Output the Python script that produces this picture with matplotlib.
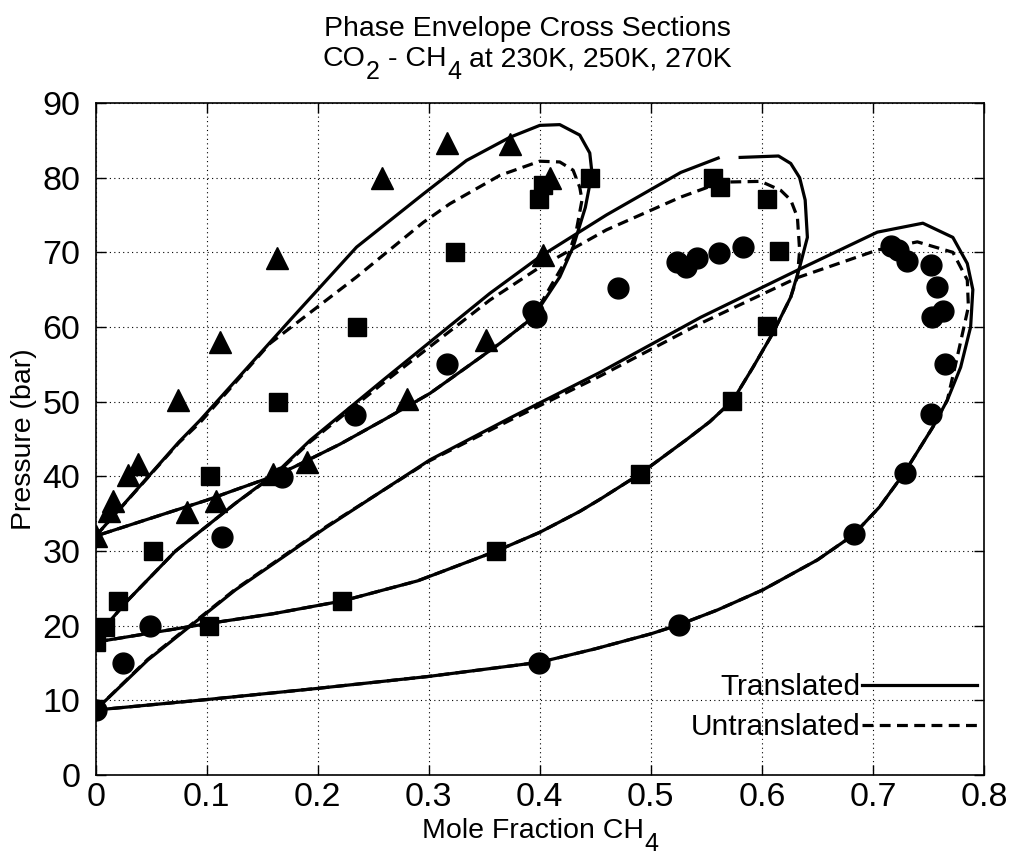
import numpy as np
import matplotlib
matplotlib.use("Agg")
import matplotlib.pyplot as plt
from matplotlib import font_manager
from matplotlib.transforms import IdentityTransform

names = {f.name for f in font_manager.fontManager.ttflist}
FONT = "Liberation Sans" if "Liberation Sans" in names else "DejaVu Sans"
plt.rcParams['font.family'] = [FONT, 'DejaVu Sans']

# ---------------- data: experimental points ----------------
t270_x = [0.0, 0.012, 0.016, 0.029, 0.038, 0.074, 0.082, 0.108, 0.112, 0.160, 0.163,
          0.190, 0.258, 0.280, 0.316, 0.352, 0.373, 0.403, 0.409]
t270_y = [32.0, 35.3, 36.7, 40.2, 41.7, 50.2, 35.2, 36.7, 58.0, 40.3, 69.3,
          41.9, 79.9, 50.3, 84.6, 58.2, 84.5, 69.6, 80.0]

s250_x = [0.0, 0.008, 0.020, 0.052, 0.102, 0.103, 0.164, 0.222, 0.235, 0.324, 0.361,
          0.399, 0.403, 0.445, 0.490, 0.556, 0.562, 0.573, 0.605, 0.605, 0.615]
s250_y = [17.8, 19.8, 23.3, 30.0, 19.9, 40.1, 50.0, 23.3, 60.0, 70.0, 30.0,
          77.2, 79.0, 80.0, 40.3, 80.0, 78.7, 50.1, 60.1, 77.2, 70.2]

c230_x = [0.0, 0.025, 0.049, 0.114, 0.168, 0.234, 0.316, 0.394, 0.397, 0.399, 0.470,
          0.524, 0.525, 0.532, 0.542, 0.561, 0.583, 0.683, 0.716, 0.723, 0.729,
          0.731, 0.752, 0.752, 0.753, 0.758, 0.763, 0.765]
c230_y = [8.7, 15.0, 20.0, 31.9, 39.9, 48.2, 55.1, 62.2, 61.3, 15.0, 65.2,
          68.7, 20.1, 68.0, 69.3, 69.9, 70.7, 32.3, 70.9, 70.3, 40.4,
          68.9, 68.3, 48.3, 61.3, 65.3, 62.2, 55.1]

# ---------------- data: model envelopes (bubble branch then dew branch) ----------------
tr230_x = [0.0, 0.047, 0.126, 0.208, 0.301, 0.373, 0.454, 0.545, 0.632, 0.704, 0.745,
           0.772, 0.785, 0.790, 0.788, 0.779, 0.767, 0.754, 0.728, 0.706, 0.682, 0.650,
           0.601, 0.560, 0.525, 0.500, 0.450, 0.400, 0.300, 0.200, 0.100, 0.0]
tr230_y = [8.7, 15.4, 24.8, 33.2, 42.2, 47.8, 53.9, 61.3, 67.6, 72.7, 73.9,
           72.0, 68.5, 65.0, 60.0, 54.6, 50.2, 46.6, 40.4, 35.9, 32.1, 28.8,
           24.8, 22.1, 20.1, 18.9, 16.9, 15.1, 13.2, 11.6, 10.1, 8.7]
un230_x = [0.0, 0.047, 0.126, 0.208, 0.301, 0.373, 0.454, 0.545, 0.632, 0.704, 0.740,
           0.772, 0.785, 0.786, 0.776, 0.767, 0.754, 0.728, 0.706, 0.682, 0.650,
           0.601, 0.560, 0.525, 0.500, 0.450, 0.400, 0.300, 0.200, 0.100, 0.0]
un230_y = [8.7, 15.5, 24.9, 33.3, 42.1, 47.5, 53.4, 60.5, 66.6, 70.3, 71.4,
           70.0, 66.3, 62.7, 56.0, 50.2, 46.6, 40.4, 35.9, 32.1, 28.8,
           24.8, 22.1, 20.1, 18.9, 16.9, 15.1, 13.2, 11.6, 10.1, 8.7]

tr250_x = [0.0, 0.008, 0.029, 0.072, 0.126, 0.163, 0.193, 0.259, 0.355, 0.400, 0.460,
           0.527, 0.562, np.nan, 0.579, 0.615, 0.626, 0.634, 0.639, 0.641, 0.634,
           0.626, 0.610, 0.592, 0.574, 0.553, 0.532, 0.490, 0.454, 0.436, 0.400, 0.361,
           0.290, 0.222, 0.160, 0.102, 0.0]
tr250_y = [17.8, 19.8, 23.4, 30.0, 36.4, 40.5, 44.8, 52.9, 64.5, 69.4, 75.0,
           80.7, 82.7, np.nan, 82.7, 82.9, 81.9, 80.0, 77.0, 72.0, 68.0,
           64.0, 59.2, 54.6, 50.2, 47.3, 44.9, 40.3, 36.9, 35.3, 32.5, 30.0,
           26.0, 23.3, 21.6, 20.3, 17.8]
un250_x = [0.0, 0.008, 0.029, 0.072, 0.126, 0.163, 0.193, 0.259, 0.355, 0.400, 0.460,
           0.527, 0.551, 0.565, 0.599, 0.617, 0.626, 0.632, 0.634, 0.632,
           0.626, 0.610, 0.592, 0.574, 0.553, 0.532, 0.490, 0.454, 0.436, 0.400, 0.361,
           0.290, 0.222, 0.160, 0.102, 0.0]
un250_y = [17.8, 19.8, 23.4, 30.0, 36.4, 40.4, 44.6, 52.5, 63.6, 68.0, 73.0,
           77.4, 78.7, 79.4, 79.5, 78.3, 77.0, 74.7, 70.3, 66.7,
           64.0, 59.2, 54.6, 50.2, 47.3, 44.9, 40.3, 36.9, 35.3, 32.5, 30.0,
           26.0, 23.3, 21.6, 20.3, 17.8]

tr270_x = [0.0, 0.075, 0.094, 0.175, 0.235, 0.295, 0.334, 0.373, 0.400, 0.418, 0.436,
           0.445, 0.447, 0.441, 0.430, 0.418, 0.394, 0.364, 0.334, 0.301, 0.260,
           0.220, 0.178, 0.160, 0.126, 0.100, 0.050, 0.0]
tr270_y = [32.0, 44.6, 47.5, 60.9, 70.7, 77.8, 82.3, 85.4, 87.0, 87.1, 85.7,
           83.3, 80.6, 76.0, 70.7, 66.7, 61.3, 57.8, 54.6, 51.1, 47.6,
           44.3, 41.2, 40.0, 38.2, 36.8, 34.4, 32.0]
un270_x = [0.0, 0.075, 0.094, 0.157, 0.235, 0.295, 0.319, 0.364, 0.400, 0.418, 0.430,
           0.436, 0.438, 0.433, 0.425, 0.410, 0.394, 0.364, 0.334, 0.301, 0.260,
           0.220, 0.178, 0.160, 0.126, 0.100, 0.050, 0.0]
un270_y = [32.0, 44.5, 47.2, 57.8, 66.7, 74.0, 76.5, 80.3, 82.2, 82.1, 81.0,
           78.7, 77.0, 73.0, 69.3, 65.5, 61.3, 57.8, 54.6, 51.1, 47.6,
           44.3, 41.2, 40.0, 38.2, 36.8, 34.4, 32.0]

xticks = [0, 0.1, 0.2, 0.3, 0.4, 0.5, 0.6, 0.7, 0.8]
xticklabels = ["0", "0.1", "0.2", "0.3", "0.4", "0.5", "0.6", "0.7", "0.8"]
yticks = [0, 10, 20, 30, 40, 50, 60, 70, 80, 90]

title_line1 = "Phase Envelope Cross Sections"
title_line2 = [("CO", False), ("2", True), ("- CH", False), ("4", True), ("at 230K, 250K, 270K", False)]
xlabel_parts = [("Mole Fraction CH", False), ("4", True)]
ylabel = "Pressure (bar)"
legend_labels = ["Translated", "Untranslated"]

# ---------------- figure ----------------
W, H = 1010, 861
fig = plt.figure(figsize=(W / 100, H / 100), dpi=100)
ax = fig.add_axes([0.0947, 0.0999, 0.8795, 0.7805])

LW = 2.3
DASH = (3.4, 2.0)
for x, y in [(tr230_x, tr230_y), (tr250_x, tr250_y), (tr270_x, tr270_y)]:
    ax.plot(x, y, color='black', lw=LW, solid_capstyle='butt', solid_joinstyle='round', zorder=3)
for x, y in [(un230_x, un230_y), (un250_x, un250_y), (un270_x, un270_y)]:
    ax.plot(x, y, color='black', lw=LW, dashes=DASH, zorder=3)

ax.plot(c230_x, c230_y, 'o', ms=15, color='black', mec='black', zorder=4, ls='none')
ax.plot(s250_x, s250_y, 's', ms=12.5, color='black', mec='black', zorder=4, ls='none')
ax.plot(t270_x, t270_y, '^', ms=16, color='black', mec='black', zorder=4, ls='none')

# legend
h1, = ax.plot([], [], color='black', lw=LW)
h2, = ax.plot([], [], color='black', lw=LW, dashes=DASH)
ax.legend([h1, h2], legend_labels, loc='lower right',
          bbox_to_anchor=(0.992, 0.05), frameon=False, markerfirst=False,
          fontsize=21.5, handlelength=3.85, handletextpad=0.05,
          labelspacing=0.4, borderpad=0.0, borderaxespad=0.0)

ax.set_xlim(0, 0.8)
ax.set_ylim(0, 90)
ax.set_xticks(xticks)
ax.set_xticklabels(xticklabels)
ax.set_yticks(yticks)
ax.tick_params(direction='in', length=7, width=1, top=True, right=True,
               labelsize=24.5, colors='black')
ax.tick_params(axis='x', pad=5)
ax.tick_params(axis='y', pad=11)
ax.grid(True, linestyle=(0, (1, 3)), color='black', lw=0.8)
for s in ax.spines.values():
    s.set_linewidth(1.2)

ax.set_ylabel(ylabel, fontsize=20.5, labelpad=4)

renderer = fig.canvas.get_renderer()


def chain_text(parts, center_x, baseline_from_top, size, sub_size, sub_drop, gap):
    objs = []
    for s, is_sub in parts:
        t = fig.text(0, 0, s, fontsize=sub_size if is_sub else size, ha='left',
                     va='baseline', transform=IdentityTransform())
        objs.append((t, is_sub))
    widths = [t.get_window_extent(renderer).width for t, _ in objs]
    gaps = []
    for i, (t, is_sub) in enumerate(objs):
        if i == 0:
            gaps.append(0)
        elif is_sub:
            gaps.append(1)
        else:
            gaps.append(gap)
    total = sum(widths) + sum(gaps)
    x = center_x - total / 2
    for (t, is_sub), w, g in zip(objs, widths, gaps):
        x += g
        y = H - baseline_from_top - (sub_drop if is_sub else 0)
        t.set_position((x, y))
        x += w


fig.text(527 / W, 1 - 36 / H, title_line1, ha='center', va='baseline', fontsize=20.5)
chain_text(title_line2, 527, 66, 20.5, 18, 13, 8)
chain_text(xlabel_parts, 540, 838, 20.5, 18, 13, 8)

fig.savefig("out.png", dpi=100)
